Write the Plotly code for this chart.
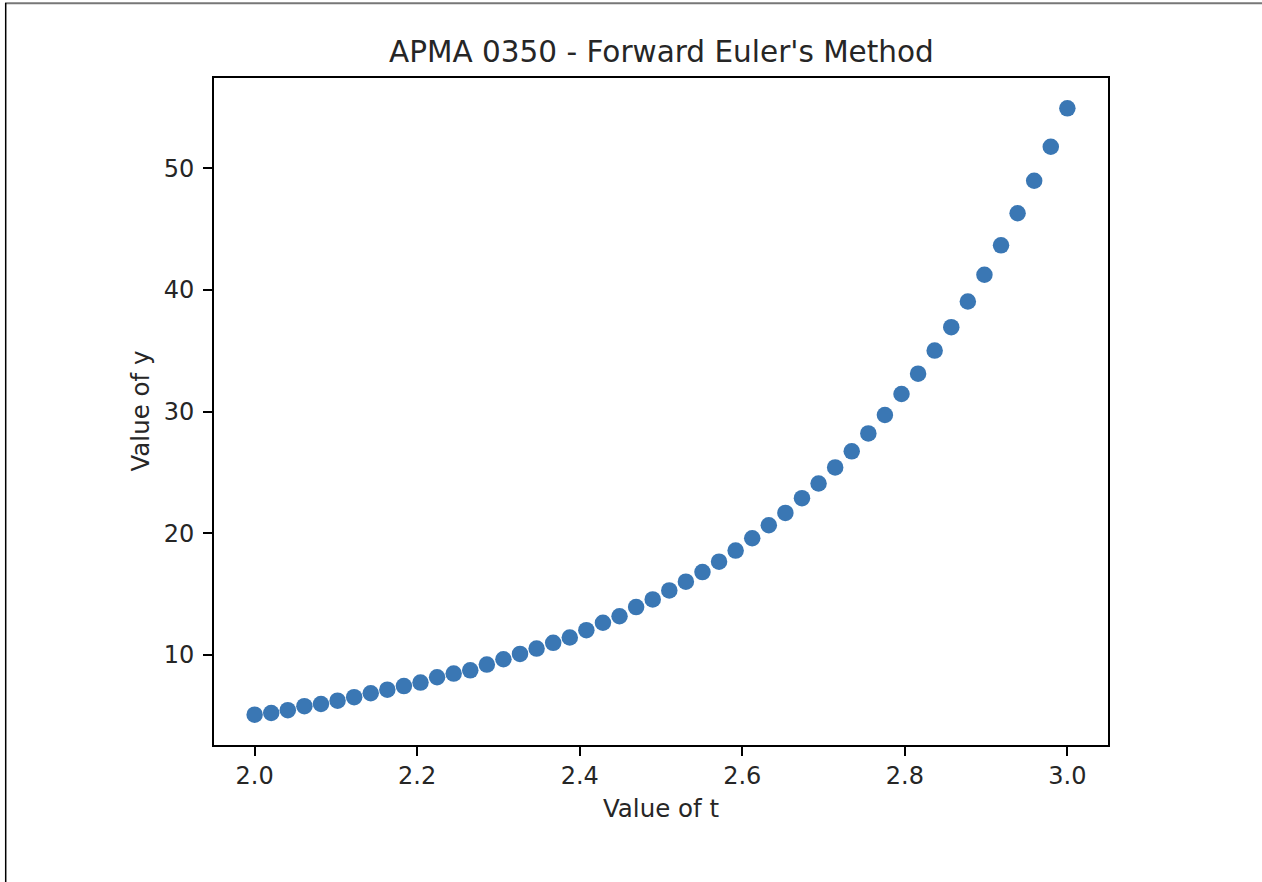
import plotly.graph_objects as go

# Data (50 forward Euler steps on [2, 3])
t_values = [2.0 + i / 49 for i in range(50)]
y_values = [
    5.07, 5.21, 5.44, 5.77, 5.95, 6.22, 6.51, 6.83, 7.13, 7.42,
    7.71, 8.15, 8.45, 8.72, 9.19, 9.63, 10.07, 10.51, 10.98, 11.42,
    12.02, 12.63, 13.17, 13.92, 14.55, 15.29, 16.01, 16.80, 17.66, 18.57,
    19.58, 20.65, 21.67, 22.88, 24.09, 25.41, 26.73, 28.21, 29.72, 31.45,
    33.12, 35.02, 36.95, 39.06, 41.26, 43.68, 46.32, 48.99, 51.79, 54.95,
]
x_ticks = [2.0, 2.2, 2.4, 2.6, 2.8, 3.0]
x_tick_labels = ["2.0", "2.2", "2.4", "2.6", "2.8", "3.0"]
y_ticks = [10, 20, 30, 40, 50]
y_tick_labels = ["10", "20", "30", "40", "50"]

title_text = "APMA 0350 - Forward Euler's Method"
x_label = "Value of t"
y_label = "Value of y"

FONT = "DejaVu Sans"
TXT = "#262626"

# matplotlib-like 5% margins
xspan = max(t_values) - min(t_values)
yspan = max(y_values) - min(y_values)
xr = [min(t_values) - 0.05 * xspan, max(t_values) + 0.05 * xspan]
yr = [min(y_values) - 0.05 * yspan, max(y_values) + 0.05 * yspan]

fig = go.Figure()
fig.add_trace(go.Scatter(
    x=t_values, y=y_values, mode="markers",
    marker=dict(size=16.5, color="#3a77b4", line=dict(width=0)),
    showlegend=False, hoverinfo="x+y",
))

W, H = 1262, 882
PL, PR, PT, PB = 214, 1108, 78, 745
L, T, R, B = PL, PT, W - PR, H - PB
pw, ph = PR - PL, PB - PT

def px(x):
    return (x - PL) / pw

def py(y):
    return (PB - y) / ph

fig.update_layout(
    width=W, height=H,
    margin=dict(l=L, r=R, t=T, b=B, pad=0),
    paper_bgcolor="white", plot_bgcolor="white",
    font=dict(family=FONT, size=24, color=TXT),
    xaxis=dict(
        range=xr, tickmode="array", tickvals=x_ticks, ticktext=x_tick_labels,
        showgrid=False, zeroline=False, showline=True, mirror=True,
        linecolor="black", linewidth=1.6, ticks="outside", ticklen=9,
        tickwidth=1.5, tickcolor="black", ticklabelstandoff=-1,
        tickfont=dict(family=FONT, size=24, color=TXT),
    ),
    yaxis=dict(
        range=yr, tickmode="array", tickvals=y_ticks, ticktext=y_tick_labels,
        showgrid=False, zeroline=False, showline=True, mirror=True,
        linecolor="black", linewidth=1.6, ticks="outside", ticklen=9,
        tickwidth=1.5, tickcolor="black", ticklabelstandoff=4,
        tickfont=dict(family=FONT, size=24, color=TXT),
    ),
    annotations=[
        dict(text=title_text, x=0.5, y=py(52), xref="paper", yref="paper",
             showarrow=False, xanchor="center", yanchor="middle",
             font=dict(family=FONT, size=29.5, color=TXT)),
        dict(text=x_label, x=0.5, y=py(808), xref="paper", yref="paper",
             showarrow=False, xanchor="center", yanchor="middle",
             font=dict(family=FONT, size=24.5, color=TXT)),
        dict(text=y_label, x=px(140), y=0.5, xref="paper", yref="paper",
             showarrow=False, xanchor="center", yanchor="middle", textangle=-90,
             font=dict(family=FONT, size=24.5, color=TXT)),
    ],
    shapes=[
        dict(type="line", xref="paper", yref="paper",
             x0=px(5), x1=px(W + 2), y0=py(3.3), y1=py(3.3),
             line=dict(color="#777777", width=2)),
        dict(type="line", xref="paper", yref="paper",
             x0=px(5.7), x1=px(5.7), y0=py(3), y1=py(H + 2),
             line=dict(color="black", width=1.5)),
    ],
)

fig.write_html(
    "out.html",
    config={"displayModeBar": False},
    post_script="document.body.style.margin='0';document.body.style.overflow='hidden';",
)
